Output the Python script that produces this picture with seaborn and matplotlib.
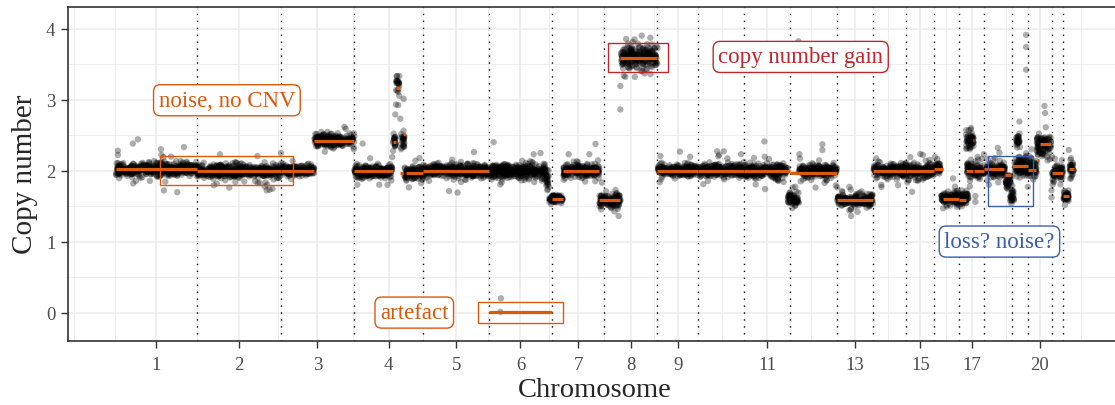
import numpy as np
import pandas as pd
import matplotlib
matplotlib.use("Agg")
import matplotlib.pyplot as plt
from matplotlib.patches import Rectangle
import seaborn as sns

# ---------------- data ----------------
chrom_names = [str(i) for i in range(1, 23)]
chrom_len = [242, 252, 221, 207, 198, 187, 158, 159, 122, 137, 140,
             140, 109, 99, 84, 75, 74, 84, 47, 72, 34, 30]
tick_chroms = ["1", "2", "3", "4", "5", "6", "7", "8", "9", "11", "13", "15", "17", "20"]

# segmentation (orange lines), genome coordinates
seg_start = [0, 242, 494, 595, 715, 831, 839, 852, 861, 870, 922, 1120, 1307, 1340, 1450,
             1513, 1624, 1746, 1883, 2023, 2163, 2272, 2371, 2455, 2480, 2530, 2550, 2570,
             2575, 2604, 2667, 2688, 2735, 2763, 2772, 2807, 2841, 2860]
seg_end = [242, 494, 595, 715, 831, 839, 853, 860, 868, 922, 1120, 1307, 1340, 1450, 1513,
           1623, 1746, 1883, 2023, 2163, 2272, 2371, 2455, 2480, 2530, 2550, 2570, 2575,
           2604, 2665, 2685, 2735, 2760, 2769, 2805, 2840, 2860, 2874]
seg_level = [2.02, 1.99, 2.00, 2.42, 1.99, 2.40, 3.16, 1.97, 2.51, 1.97, 2.00, 0.01, 1.60,
             2.00, 1.58, 3.59, 2.00, 2.00, 2.00, 1.97, 1.58, 2.00, 2.00, 2.02, 1.60, 1.59,
             2.00, 2.43, 1.99, 2.02, 1.94, 2.07, 2.01, 2.15, 2.37, 1.96, 1.64, 2.02]

# bin clouds (level and spread)
cloud_start = [0, 242, 494, 595, 715, 831, 840, 855, 866, 922, 1120, 1290, 1300, 1342,
               1450, 1515, 1625, 1746, 1883, 2015, 2048, 2163, 2272, 2371, 2455, 2475,
               2550, 2553, 2612, 2668, 2682, 2695, 2700, 2735, 2762, 2807, 2841, 2860]
cloud_end = [242, 494, 595, 715, 831, 840, 851, 866, 922, 1120, 1290, 1300, 1340, 1450,
             1513, 1625, 1746, 1883, 2015, 2048, 2163, 2272, 2371, 2455, 2475, 2557,
             2575, 2604, 2668, 2685, 2695, 2735, 2712, 2762, 2805, 2840, 2860, 2874]
cloud_level = [2.02, 1.99, 2.00, 2.42, 1.99, 2.40, 3.22, 2.40, 1.97, 2.00, 2.00, 1.85,
               1.60, 2.00, 1.58, 3.59, 2.00, 2.00, 2.00, 1.60, 1.99, 1.58, 2.00, 2.00,
               2.03, 1.60, 2.42, 2.00, 2.02, 1.85, 1.62, 2.07, 2.42, 2.02, 2.35, 1.96,
               1.64, 2.02]
cloud_sd = [0.045, 0.045, 0.04, 0.045, 0.045, 0.05, 0.08, 0.05, 0.045, 0.045, 0.05, 0.06,
            0.035, 0.045, 0.045, 0.075, 0.04, 0.045, 0.045, 0.045, 0.045, 0.04, 0.045,
            0.045, 0.04, 0.045, 0.06, 0.06, 0.05, 0.05, 0.05, 0.08, 0.06, 0.07, 0.08,
            0.05, 0.045, 0.05]

# individual outlying bins
out_x = [6, 6, 51, 66, 135, 144, 340, 461, 740, 790, 833, 838, 840, 853, 863, 863,
         1025, 1074, 1133, 1153, 1155, 1253, 1343, 1358, 1420, 1458, 1508, 1513, 1513,
         1528, 1550, 1577, 1603, 1875, 1945, 1947, 2047, 2050, 2119, 2119, 2205, 2296,
         2388, 2420, 2511, 2578, 2578, 2603, 2645, 2650, 2710, 2730, 2730, 2730, 2735,
         2785, 2787, 2789, 2806, 2806, 2857, 2858, 2863]
out_y = [2.22, 2.28, 2.38, 2.44, 2.30, 1.72, 1.76, 1.73, 2.38, 1.80, 2.52, 2.79, 2.93,
         2.73, 3.01, 2.56, 1.69, 2.26, 2.40, 0.01, 0.20, 2.23, 1.87, 2.23, 2.23, 1.83,
         1.36, 2.86, 3.19, 3.32, 3.81, 3.90, 3.87, 2.23, 2.41, 1.74, 3.82, 2.23, 2.37,
         2.29, 1.36, 1.77, 1.70, 2.22, 1.89, 1.64, 1.56, 2.23, 2.32, 2.25, 2.69, 3.91,
         3.74, 3.42, 1.77, 2.91, 2.81, 2.61, 1.62, 1.72, 1.72, 2.29, 2.15]

# annotations
label_text = ["noise, no CNV", "artefact", "copy number gain", "loss? noise?"]
label_x = [333, 895, 2054, 2650]
label_y = [2.99, 0.0, 3.60, 1.00]
box_xmin = [133, 1087, 1477, 2617]
box_xmax = [532, 1340, 1657, 2750]
box_ymin = [1.80, -0.15, 3.39, 1.50]
box_ymax = [2.20, 0.15, 3.80, 2.20]

ORANGE = "#D9590F"
RED = "#C0272D"
BLUE = "#3A5DAE"
ann_color = [ORANGE, ORANGE, RED, BLUE]

# ---------------- build bins ----------------
rng = np.random.default_rng(7)
xs, ys = [], []
for s, e, lv, sd in zip(cloud_start, cloud_end, cloud_level, cloud_sd):
    n = max(int((e - s) * 2.0), 4)
    x = np.sort(rng.uniform(s, e, n))
    noise = rng.normal(0, sd, n)
    wide = rng.random(n) < 0.07
    noise[wide] = rng.normal(0, sd * 2.6, wide.sum())
    xs.append(x)
    ys.append(lv + noise)
xs.append(np.array(out_x, float))
ys.append(np.array(out_y, float))
bins = pd.DataFrame({"pos": np.concatenate(xs), "cn": np.concatenate(ys)})

chrom_start = np.concatenate([[0], np.cumsum(chrom_len)[:-1]])
chrom_end = np.cumsum(chrom_len)
chrom_mid = (chrom_start + chrom_end) / 2
tick_pos = [chrom_mid[chrom_names.index(c)] for c in tick_chroms]

# ---------------- plot ----------------
sns.set_theme(style="white")
plt.rcParams["font.family"] = ["Liberation Serif", "DejaVu Serif"]

fig = plt.figure(figsize=(11.15, 4.06), dpi=100)
ax = fig.add_axes([68 / 1115, 1 - 342 / 406, (1121 - 68) / 1115, (342 - 7.5) / 406])

span = chrom_end[-1]
ax.set_xlim(-0.05 * span, span * 1.05)
ax.set_ylim(-0.40, 4.31)

# grid
grid_c = "#EBEBEB"
for yv in [0, 1, 2, 3, 4]:
    ax.axhline(yv, color=grid_c, lw=1.1, zorder=0)
for yv in [0.5, 1.5, 2.5, 3.5]:
    ax.axhline(yv, color=grid_c, lw=0.6, zorder=0)
for xv in tick_pos:
    ax.axvline(xv, color=grid_c, lw=1.1, zorder=0)
bd = tick_pos[1] - tick_pos[0]
ext = [tick_pos[0] - bd] + list(tick_pos) + [tick_pos[-1] + bd]
ax.axvline(ext[0], color=grid_c, lw=0.6, zorder=0)
for a, b in zip(ext[:-1], ext[1:]):
    ax.axvline((a + b) / 2, color=grid_c, lw=0.6, zorder=0)

# chromosome boundaries
for b in chrom_end[:-1]:
    ax.axvline(b, color="black", lw=1.0, ls=(0, (1, 4)), zorder=1)

sns.scatterplot(data=bins, x="pos", y="cn", color="black", alpha=0.32, s=21,
                edgecolor="none", linewidth=0, ax=ax, zorder=2, legend=False)

ax.hlines(seg_level, seg_start, seg_end, color=ORANGE, lw=2.3, zorder=3)

for x0, x1, y0, y1, c in zip(box_xmin, box_xmax, box_ymin, box_ymax, ann_color):
    ax.add_patch(Rectangle((x0, y0), x1 - x0, y1 - y0, fill=False, ec=c, lw=1.0, zorder=4))

for t, x, y, c in zip(label_text, label_x, label_y, ann_color):
    ax.text(x, y, t, color=c, fontsize=16.5, ha="center", va="center", zorder=5,
            bbox=dict(boxstyle="round,pad=0.22,rounding_size=0.3", fc="white", ec=c, lw=1.0))

ax.set_xticks(tick_pos)
ax.set_xticklabels(tick_chroms)
ax.set_yticks([0, 1, 2, 3, 4])
ax.tick_params(axis="both", which="major", length=5, width=1, color="#333333",
               labelsize=13.5, labelcolor="#4D4D4D", direction="out",
               bottom=True, left=True)
ax.tick_params(axis="x", pad=6)
ax.tick_params(axis="y", pad=4)
ax.set_xlabel("Chromosome", fontsize=20.5, labelpad=3)
ax.set_ylabel("Copy number", fontsize=21, labelpad=6)

for sp in ["left", "bottom", "top"]:
    ax.spines[sp].set_color("#333333")
    ax.spines[sp].set_linewidth(1.2)
ax.spines["right"].set_visible(False)

fig.savefig("out.png", dpi=100)
